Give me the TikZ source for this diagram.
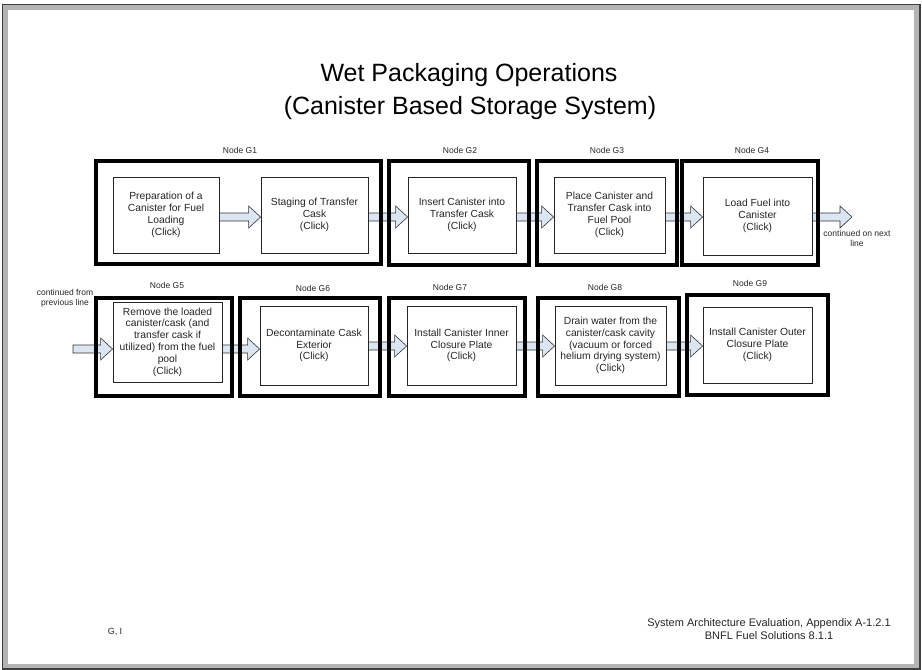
\documentclass[tikz,border=0pt]{standalone}
\usepackage{fontspec}
\setmainfont{Liberation Sans}
\usetikzlibrary{calc,backgrounds}

\definecolor{arrowfill}{HTML}{DCE6F2}
\definecolor{framegray}{HTML}{B4B4B4}

% block arrow from one anchor point to another, at a given height
\newcommand\blockarrow[3]{%
  \begin{pgfonlayer}{background}
    \path[blockarr] let \p1=(#1), \p2=(#2), \p3=(0,#3) in
      (\x1,{\y3+4pt}) -- ({\x2-12pt},{\y3+4pt}) -- ({\x2-12pt},{\y3+11pt})
      -- (\x2,\y3) -- ({\x2-12pt},{\y3-11pt}) -- ({\x2-12pt},{\y3-4pt})
      -- (\x1,{\y3-4pt}) -- cycle;
  \end{pgfonlayer}}

\begin{document}
\begin{tikzpicture}[x=1pt,y=-1pt,
  % rectangle node spanning the corners (#1,#2) and (#3,#4)
  span/.style n args={4}{at={({(#1+#3)/2},{(#2+#4)/2})},
    minimum width={#3-#1}, minimum height={#4-#2}},
  outbox/.style={draw=black, line width=3.4pt, inner sep=0pt, rectangle},
  inbox/.style={draw=black!85, line width=0.8pt, fill=white, inner sep=0pt, rectangle,
    align=center, font=\fontsize{10.3}{11.8}\selectfont, text=black!85,
    execute at begin node={\rule{0pt}{11.5pt}}},
  nodelab/.style={font=\fontsize{8.5}{10}\selectfont, text=black!85},
  smalltxt/.style={font=\fontsize{8.5}{10}\selectfont, text=black!85, align=center},
  titletxt/.style={font=\fontsize{25}{30}\selectfont},
  foottxt/.style={font=\fontsize{11}{13}\selectfont, text=black!85, align=center},
  blockarr/.style={draw=black!80, line width=0.6pt, fill=arrowfill, line join=miter},
]
\useasboundingbox (0,0) rectangle (922,670);

% page frame
\begin{pgfonlayer}{background}
  \fill[black!75] (2,4) rectangle (921,670);
  \fill[framegray] (3,5) rectangle (919,668);
  \fill[white] (8,10) rectangle (914,664);
\end{pgfonlayer}

% title
\node[titletxt] (title1) at (469,75) {Wet Packaging Operations};
\node[titletxt] (title2) at (470,108) {(Canister Based Storage System)};

% ---- first row ----
\node[outbox, span={96}{161}{381}{264}] (G1) {};
\node[outbox, span={389}{161}{529}{265}] (G2) {};
\node[outbox, span={537}{161}{677}{265}] (G3) {};
\node[outbox, span={682}{161}{818}{265}] (G4) {};

\node[nodelab] (l1) at (240,150) {Node G1};
\node[nodelab] (l2) at (460,150) {Node G2};
\node[nodelab] (l3) at (607,150) {Node G3};
\node[nodelab] (l4) at (752,150) {Node G4};

\node[inbox, span={113}{177}{219}{253}] (g1a) {Preparation of a\\Canister for Fuel\\Loading\\(Click)};
\node[inbox, span={261}{177}{368}{253}] (g1b) {Staging of Transfer\\Cask\\(Click)};
\node[inbox, span={408}{177}{516}{253}] (g2) {Insert Canister into\\Transfer Cask\\(Click)};
\node[inbox, span={554}{177}{665}{253}] (g3) {Place Canister and\\Transfer Cask into\\Fuel Pool\\(Click)};
\node[inbox, span={703}{177}{812}{255}] (g4) {Load Fuel into\\Canister\\(Click)};

\coordinate (next) at (852,217);
\node[smalltxt] (nexttxt) at (857,238) {continued on next\\line};

\blockarrow{g1a.east}{g1b.west}{217}
\blockarrow{g1b.east}{g2.west}{217}
\blockarrow{g2.east}{g3.west}{217}
\blockarrow{g3.east}{g4.west}{217}
\blockarrow{g4.east}{next}{217}

% ---- second row ----
\node[outbox, span={96}{298}{232}{396}] (G5) {};
\node[outbox, span={240}{298}{380}{396}] (G6) {};
\node[outbox, span={389}{298}{525}{396}] (G7) {};
\node[outbox, span={538}{298}{679}{396}] (G8) {};
\node[outbox, span={687}{295}{828}{395}] (G9) {};

\node[nodelab] (l5) at (167,285) {Node G5};
\node[nodelab] (l6) at (313,288) {Node G6};
\node[nodelab] (l7) at (450,287) {Node G7};
\node[nodelab] (l8) at (605,287) {Node G8};
\node[nodelab] (l9) at (750,283) {Node G9};

\node[inbox, span={113}{302}{222}{382}] (g5) {Remove the loaded\\canister/cask (and\\transfer cask if\\utilized) from the fuel\\pool\\(Click)};
\node[inbox, span={260}{306}{368}{385}] (g6) {Decontaminate Cask\\Exterior\\(Click)};
\node[inbox, span={407}{306}{516}{385}] (g7) {Install Canister Inner\\Closure Plate\\(Click)};
\node[inbox, span={555}{306}{666}{385}] (g8) {Drain water from the\\canister/cask cavity\\(vacuum or forced\\helium drying system)\\(Click)};
\node[inbox, span={703}{307}{812}{383}] (g9) {Install Canister Outer\\Closure Plate\\(Click)};

\coordinate (prev) at (73,349);
\node[smalltxt] (prevtxt) at (65,298) {continued from\\previous line};

\blockarrow{prev}{g5.west}{349}
\blockarrow{g5.east}{g6.west}{349}
\blockarrow{g6.east}{g7.west}{346}
\blockarrow{g7.east}{g8.west}{346}
\blockarrow{g8.east}{g9.west}{346}

% footer
\node[foottxt] (foot) at (769,629) {System Architecture Evaluation, Appendix A-1.2.1\\BNFL Fuel Solutions 8.1.1};
\node[foottxt, font=\fontsize{9}{11}\selectfont] (gi) at (115,632) {G, I};
\end{tikzpicture}
\end{document}
